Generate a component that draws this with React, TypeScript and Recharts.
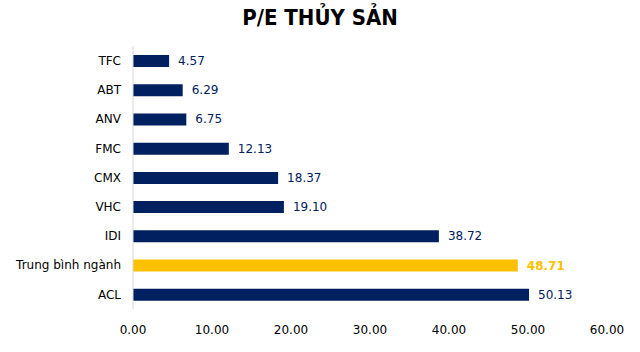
import { BarChart, Bar, XAxis, YAxis, Cell, LabelList } from 'recharts'

const categories = ['TFC', 'ABT', 'ANV', 'FMC', 'CMX', 'VHC', 'IDI', 'Trung bình ngành', 'ACL']
const peValues = [4.57, 6.29, 6.75, 12.13, 18.37, 19.1, 38.72, 48.71, 50.13]
const xTicks = [0, 10, 20, 30, 40, 50, 60]
const highlight = 'Trung bình ngành'

const data = categories.map((name, i) => ({ name, pe: peValues[i] }))

const NAVY = '#002060'
const GOLD = '#FFC000'
const FONT = "'DejaVu Sans', Verdana, sans-serif"

const renderLabel = (props: any) => {
  const { x, y, width, height, value, index } = props
  const isAvg = categories[index] === highlight
  return (
    <text
      x={x + width + 9}
      y={y + height / 2}
      dy={4}
      fill={isAvg ? GOLD : NAVY}
      fontSize={12}
      fontWeight={isAvg ? 'bold' : 'normal'}
      fontFamily={FONT}
    >
      {Number(value).toFixed(2)}
    </text>
  )
}

export default function App() {
  return (
    <div style={{ position: 'absolute', left: 0, top: 0, width: 640, height: 352, background: '#fff' }}>
      <div
        style={{
          position: 'absolute',
          top: 5,
          left: 0,
          width: 640,
          textAlign: 'center',
          fontFamily: "'Liberation Sans Narrow', 'DejaVu Sans Condensed', sans-serif",
          fontWeight: 'bold',
          fontSize: 22,
          color: '#000',
        }}
      >
        P/E THỦY SẢN
      </div>

      <BarChart
        width={640}
        height={352}
        data={data}
        layout="vertical"
        margin={{ top: 46, right: 33, bottom: 0, left: 0 }}
      >
        <XAxis
          type="number"
          domain={[0, 60]}
          ticks={xTicks}
          tickFormatter={(v) => Number(v).toFixed(2)}
          axisLine={false}
          tickLine={false}
          height={43}
          tickMargin={10}
          tick={{ fill: '#000', fontSize: 12, fontFamily: FONT }}
        />
        <YAxis
          type="category"
          dataKey="name"
          width={133}
          axisLine={{ stroke: '#d9d9d9' }}
          tickLine={false}
          tickSize={0}
          tickMargin={12}
          tick={{ fill: '#000', fontSize: 12, fontFamily: FONT }}
        />
        <Bar dataKey="pe" barSize={12} isAnimationActive={false}>
          {data.map((d) => (
            <Cell key={d.name} fill={d.name === highlight ? GOLD : NAVY} />
          ))}
          <LabelList dataKey="pe" content={renderLabel} />
        </Bar>
      </BarChart>
    </div>
  )
}
